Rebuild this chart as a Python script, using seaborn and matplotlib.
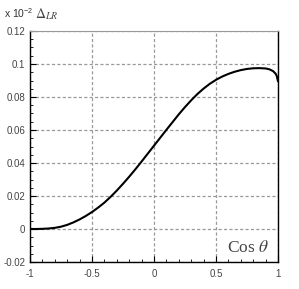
import numpy as np
import pandas as pd
import matplotlib
matplotlib.use("Agg")
import matplotlib.pyplot as plt
from matplotlib.ticker import MultipleLocator
import seaborn as sns

# values (units of 10^-2)
cos_theta = [-1.0, -0.95, -0.9, -0.85, -0.8, -0.75, -0.7, -0.65, -0.6, -0.55,
             -0.5, -0.45, -0.4, -0.35, -0.3, -0.25, -0.2, -0.15, -0.1, -0.05,
             0.0, 0.05, 0.1, 0.15, 0.2, 0.25, 0.3, 0.35, 0.4, 0.45,
             0.5, 0.55, 0.6, 0.65, 0.7, 0.75, 0.8, 0.85, 0.9, 0.93,
             0.96, 0.98, 0.99, 1.0]
delta_lr = [0.0, 0.0, 0.0001, 0.0003, 0.0007, 0.0014, 0.0025, 0.0040, 0.0058, 0.0079,
            0.0103, 0.0130, 0.0160, 0.0195, 0.0233, 0.0274, 0.0317, 0.0362, 0.0409, 0.0457,
            0.0505, 0.0553, 0.0601, 0.0648, 0.0695, 0.0739, 0.0780, 0.0818, 0.0851, 0.0880,
            0.0904, 0.0924, 0.0940, 0.0953, 0.0963, 0.0970, 0.0974, 0.0975, 0.0973, 0.0968,
            0.0957, 0.0942, 0.0928, 0.0895]
x_ticks = [-1, -0.5, 0, 0.5, 1]
x_labels = ["-1", "-0.5", "0", "0.5", "1"]
y_ticks = [-0.02, 0, 0.02, 0.04, 0.06, 0.08, 0.1, 0.12]
y_labels = ["-0.02", "0", "0.02", "0.04", "0.06", "0.08", "0.1", "0.12"]

df = pd.DataFrame({"cos": cos_theta, "delta": delta_lr})

sns.set_style("ticks")
plt.rcParams["font.family"] = ["Liberation Sans", "DejaVu Sans"]

fig = plt.figure(figsize=(2.99, 2.89), dpi=100)
ax = fig.add_axes([30 / 299, 1 - 262 / 289, 248 / 299, 231 / 289])

sns.lineplot(data=df, x="cos", y="delta", color="black", linewidth=1.5, ax=ax)

ax.set_xlim(-1, 1)
ax.set_ylim(-0.02, 0.12)
ax.set_xticks(x_ticks)
ax.set_xticklabels(x_labels)
ax.set_yticks(y_ticks)
ax.set_yticklabels(y_labels)
ax.xaxis.set_minor_locator(MultipleLocator(0.1))
ax.yaxis.set_minor_locator(MultipleLocator(0.005))
ax.tick_params(which="both", direction="in", labelsize=7, labelcolor="#444444")
ax.tick_params(which="major", length=4, width=0.8, color="black")
ax.tick_params(which="minor", length=2, width=0.6, color="black")
ax.tick_params(axis="x", pad=5)
ax.grid(True, which="major", linestyle=(0, (2.5, 1.8)), color="#999999", linewidth=0.9)
ax.set_xlabel("")
ax.set_ylabel("")

for s in ["left", "bottom", "right"]:
    ax.spines[s].set_color("black")
    ax.spines[s].set_linewidth(1.0)
ax.spines["top"].set_color("#999999")

fig.text(4 / 299, 1 - 18 / 289, r"x 10$^{\mathregular{-2}}$", fontsize=7.5, color="#333333",
         va="baseline")
fig.text(35 / 299, 1 - 18 / 289, r"$\Delta_{LR}$", fontsize=10, color="#444444",
         va="baseline", math_fontfamily="stix")
ax.text(0.965, 0.045, r"Cos $\theta$", transform=ax.transAxes, ha="right", va="baseline",
        fontsize=12.5, color="#444444", family="Liberation Serif", math_fontfamily="stix")

fig.savefig("out.png", dpi=100)
